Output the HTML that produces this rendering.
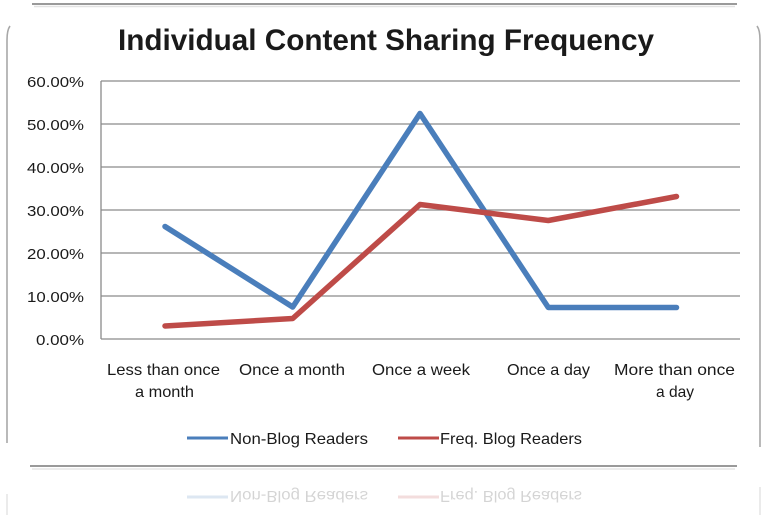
<!DOCTYPE html>
<html>
<head>
<meta charset="utf-8">
<style>
  html, body { margin: 0; padding: 0; background: #ffffff; }
  svg { display: block; }
  text { font-family: "Liberation Sans", "DejaVu Sans", sans-serif; fill: #1a1a1a; }
</style>
</head>
<body>
<svg width="765" height="516" viewBox="0 0 765 516" xmlns="http://www.w3.org/2000/svg">
  <rect x="0" y="0" width="765" height="516" fill="#ffffff"/>

  <!-- top line from previous frame -->
  <line x1="32" y1="4" x2="737" y2="4" stroke="#9a9a9a" stroke-width="2"/>
  <line x1="34" y1="6.5" x2="735" y2="6.5" stroke="#e2e2e2" stroke-width="1.5"/>

  <!-- chart frame borders -->
  <path d="M10,26 Q7,30 7,40 L7,443" fill="none" stroke="#a8a8a8" stroke-width="1.6"/>
  <path d="M757,26 Q760,30 760,40 L760,447" fill="none" stroke="#a8a8a8" stroke-width="1.6"/>

  <!-- bottom line -->
  <line x1="30" y1="466" x2="737" y2="466" stroke="#9a9a9a" stroke-width="2"/>
  <line x1="32" y1="469" x2="735" y2="469" stroke="#e6e6e6" stroke-width="1.5"/>

  <!-- title -->
  <text x="118" y="50" font-size="30" font-weight="bold" textLength="536" lengthAdjust="spacingAndGlyphs" fill="#111">Individual Content Sharing Frequency</text>

  <!-- gridlines -->
  <g stroke="#8a8a8a" stroke-width="1.3">
    <line x1="101" y1="81" x2="740" y2="81"/>
    <line x1="101" y1="124" x2="740" y2="124"/>
    <line x1="101" y1="167" x2="740" y2="167"/>
    <line x1="101" y1="210" x2="740" y2="210"/>
    <line x1="101" y1="253" x2="740" y2="253"/>
    <line x1="101" y1="296" x2="740" y2="296"/>
    <line x1="101" y1="339" x2="740" y2="339"/>
    <line x1="101" y1="81" x2="101" y2="339"/>
  </g>

  <!-- y labels -->
  <g font-size="14.5" text-anchor="end" fill="#2a2a2a">
    <text x="84" y="87" textLength="57" lengthAdjust="spacingAndGlyphs">60.00%</text>
    <text x="84" y="130" textLength="57" lengthAdjust="spacingAndGlyphs">50.00%</text>
    <text x="84" y="173" textLength="57" lengthAdjust="spacingAndGlyphs">40.00%</text>
    <text x="84" y="216" textLength="57" lengthAdjust="spacingAndGlyphs">30.00%</text>
    <text x="84" y="259" textLength="57" lengthAdjust="spacingAndGlyphs">20.00%</text>
    <text x="84" y="302" textLength="57" lengthAdjust="spacingAndGlyphs">10.00%</text>
    <text x="84" y="345" textLength="48" lengthAdjust="spacingAndGlyphs">0.00%</text>
  </g>

  <!-- x labels -->
  <g font-size="16" fill="#222">
    <text x="107" y="375" textLength="113" lengthAdjust="spacingAndGlyphs">Less than once</text>
    <text x="135" y="397" textLength="59" lengthAdjust="spacingAndGlyphs">a month</text>
    <text x="239" y="375" textLength="106" lengthAdjust="spacingAndGlyphs">Once a month</text>
    <text x="372" y="375" textLength="98" lengthAdjust="spacingAndGlyphs">Once a week</text>
    <text x="507" y="375" textLength="83" lengthAdjust="spacingAndGlyphs">Once a day</text>
    <text x="614" y="375" textLength="121" lengthAdjust="spacingAndGlyphs">More than once</text>
    <text x="656" y="397" textLength="38" lengthAdjust="spacingAndGlyphs">a day</text>
  </g>

  <!-- series -->
  <polyline points="165,226.5 292.7,307 420,113.5 548.3,307.5 676.5,307.5" fill="none" stroke="#4a7ebb" stroke-width="5.5" stroke-linejoin="round" stroke-linecap="round"/>
  <polyline points="165,326 292.7,318.5 420,204.5 548.3,220.5 676.5,196.5" fill="none" stroke="#be4b48" stroke-width="5.5" stroke-linejoin="round" stroke-linecap="round"/>

  <!-- legend -->
  <line x1="187" y1="438" x2="228" y2="438" stroke="#4a7ebb" stroke-width="3"/>
  <text x="230" y="444" font-size="16" textLength="138" lengthAdjust="spacingAndGlyphs" fill="#222">Non-Blog Readers</text>
  <line x1="398" y1="438" x2="439" y2="438" stroke="#be4b48" stroke-width="3"/>
  <text x="440" y="444" font-size="16" textLength="142" lengthAdjust="spacingAndGlyphs" fill="#222">Freq. Blog Readers</text>

  <!-- reflection -->
  <g opacity="0.18" transform="translate(0,935) scale(1,-1)">
    <line x1="187" y1="438" x2="228" y2="438" stroke="#4a7ebb" stroke-width="3"/>
    <text x="230" y="444" font-size="16" textLength="138" lengthAdjust="spacingAndGlyphs" fill="#222">Non-Blog Readers</text>
    <line x1="398" y1="438" x2="439" y2="438" stroke="#be4b48" stroke-width="3"/>
    <text x="440" y="444" font-size="16" textLength="142" lengthAdjust="spacingAndGlyphs" fill="#222">Freq. Blog Readers</text>
    <line x1="7" y1="420" x2="7" y2="441" stroke="#777" stroke-width="1.6"/>
    <line x1="760" y1="420" x2="760" y2="448" stroke="#777" stroke-width="1.6"/>
  </g>
</svg>
</body>
</html>
